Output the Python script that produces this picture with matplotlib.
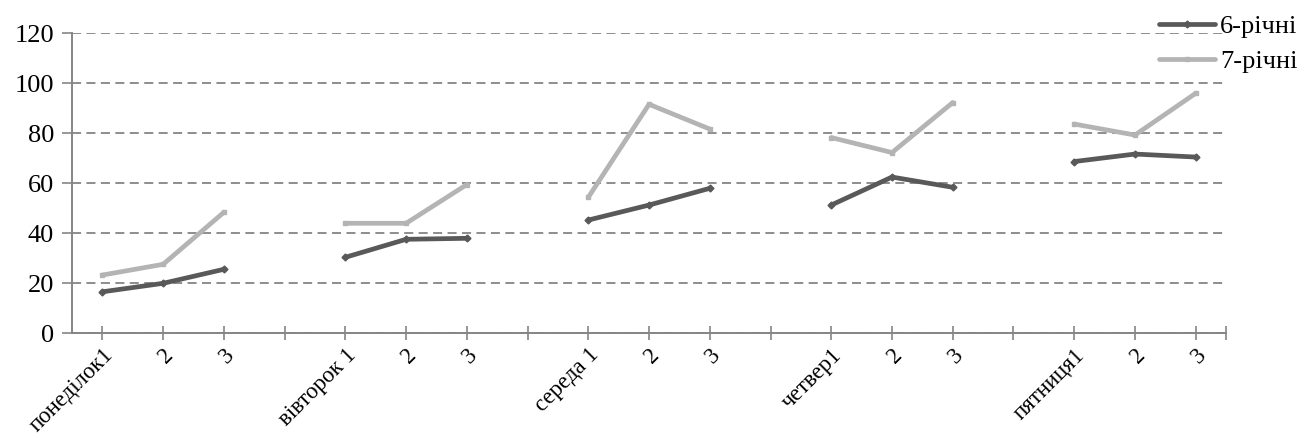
import numpy as np
import matplotlib.pyplot as plt

plt.rcParams['font.family'] = ['Liberation Serif', 'DejaVu Serif']

labels = ["понеділок1", "2", "3", "", "вівторок 1", "2", "3", "",
          "середа 1", "2", "3", "", "четвер1", "2", "3", "",
          "пятниця1", "2", "3"]
nan = np.nan
six = [16.6, 20.0, 25.6, nan, 30.4, 37.6, 38.0, nan,
       45.3, 51.3, 58.0, nan, 51.3, 62.5, 58.4, nan,
       68.7, 71.7, 70.5]
seven = [23.3, 27.6, 48.4, nan, 44.0, 44.0, 59.5, nan,
         54.4, 91.6, 81.7, nan, 78.3, 72.3, 92.3, nan,
         83.7, 79.3, 96.0]

x = np.arange(len(labels))

fig = plt.figure(figsize=(13.12, 4.41), dpi=100)
ax = fig.add_axes([0.0549, 0.2442, 0.8796, 0.6803])

axis_gray = '#858585'
ax.plot(x, six, color='#595959', lw=3.4, marker='D', ms=3.5, label='6-річні',
        solid_capstyle='round', zorder=3)
ax.plot(x, seven, color='#b4b4b4', lw=3.4, marker='s', ms=3.5, label='7-річні',
        solid_capstyle='round', zorder=3)

ax.set_xlim(-0.5, len(labels) - 0.5)
ax.set_ylim(0, 120)
ax.set_yticks(range(0, 121, 20))
ax.yaxis.grid(True, linestyle=(0, (5, 3)), color=axis_gray, lw=1.3)
ax.set_axisbelow(True)

ax.set_xticks(x)
ax.set_xticks([len(labels) - 0.5], minor=True)
ax.set_xticklabels(labels, rotation=45, ha='right', rotation_mode='anchor')

for s in ['top', 'right']:
    ax.spines[s].set_visible(False)
for s in ['left', 'bottom']:
    ax.spines[s].set_color(axis_gray)
    ax.spines[s].set_linewidth(1.4)

ax.tick_params(axis='y', length=7, width=1.2, color=axis_gray, labelsize=19, pad=6)
ax.tick_params(axis='x', which='both', direction='inout', length=10, width=1.2,
               color=axis_gray, labelsize=16.5, pad=3)

fig.legend(loc='upper right', bbox_to_anchor=(1.0, 1.0), frameon=False,
           fontsize=19, handlelength=2.1, handletextpad=0.2, labelspacing=0.45,
           borderaxespad=0.15)

fig.savefig('out.png', dpi=100)
